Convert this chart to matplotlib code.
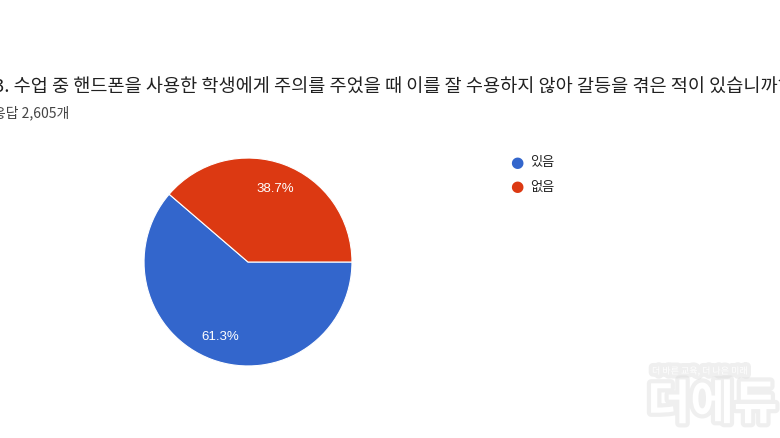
import matplotlib.pyplot as plt
import matplotlib.patheffects as pe

plt.rcParams['font.family'] = ['Noto Sans CJK KR', 'DejaVu Sans']

# 데이터
labels = ['있음', '없음']
values = [61.3, 38.7]
colors = ['#3366CC', '#DC3912']
title = '3. 수업 중 핸드폰을 사용한 학생에게 주의를 주었을 때 이를 잘 수용하지 않아 갈등을 겪은 적이 있습니까?'
subtitle = '응답 2,605개'

fig = plt.figure(figsize=(7.8, 4.39), dpi=100)

fig.text(-6/780, 1 - 88/439, title, fontsize=13.4, color='#212121', va='center', ha='left')
fig.text(-7/780, 1 - 113/439, subtitle, fontsize=10, color='#444444', va='center', ha='left')

ax = fig.add_axes([143/780, 71/439, 210/780, 210/439])
wedges, texts, autotexts = ax.pie(values, colors=colors, startangle=0, counterclock=False,
                                  autopct='%.1f%%', pctdistance=0.76,
                                  wedgeprops=dict(edgecolor='white', linewidth=0.8),
                                  textprops=dict(color='white', fontsize=9.5, family=['Liberation Sans']))
ax.set_xlim(-1.01, 1.01)
ax.set_ylim(-1.01, 1.01)
ax.set_aspect('equal')

# 범례
for i, (lab, c) in enumerate(zip(labels, colors)):
    y = 1 - (163 + 24*i)/439
    fig.text(517/780, y, '●', color=c, fontsize=11, va='center', ha='center', family=['DejaVu Sans'])
    fig.text(530/780, y, lab, color='#222222', fontsize=9.5, va='center', ha='left')

# 워터마크
shadow = [pe.withStroke(linewidth=6, foreground='#dddddd', alpha=0.45)]
fig.text(652/780, 1 - 372/439, '더 바른 교육, 더 나은 미래', fontsize=6.5, color='white', va='center',
         path_effects=shadow)
fig.text(647/780, 1 - 406/439, '더에듀', fontsize=34, fontweight='bold', color='white', va='center',
         path_effects=shadow)

fig.savefig('out.png', dpi=100)
